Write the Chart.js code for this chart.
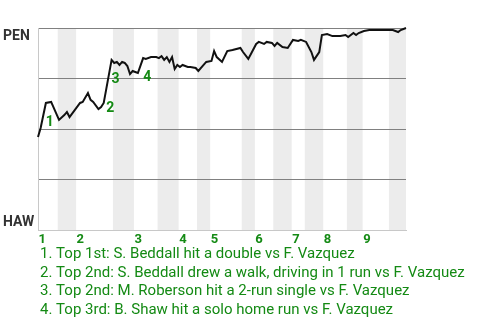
<!DOCTYPE html>
<html><head><meta charset="utf-8">
<script src="https://cdn.jsdelivr.net/npm/chart.js@4"></script>
<style>html,body{margin:0;padding:0;background:#fff}#wrap{position:relative;width:480px;height:320px}</style>
</head><body><div id="wrap"><canvas id="c"></canvas></div>
<script>
const playIdx = [0,1,3,5,8,10,11,12,16,17,19,20,21,23,24,25,26,28,29,30,31,32,33,34,35,36,37,38,40,41,43,45,46,47,48,49,50,51,52,53,54,55,57,58,60,61,63,64,66,67,68,70,72,74,77,78,80,81,83,84,86,87,89,90,91,93,95,97,99,100,102,104,105,107,108,110,112,113,115,117,118,120,121,122,124,126,135,137,138,140];
const penWinPct = [46.0,50.5,62.9,63.4,54.5,56.9,58.4,55.9,62.9,63.4,67.8,64.4,63.4,59.9,60.9,62.9,70.0,84.2,82.7,83.2,81.7,83.2,82.7,81.2,77.2,78.7,78.2,77.7,85.1,84.7,85.6,85.6,85.1,86.1,84.2,85.6,83.2,85.6,79.7,81.7,80.7,81.7,80.7,80.7,80.2,78.7,81.7,83.2,83.7,88.6,85.6,83.2,88.6,89.1,90.1,88.1,84.7,87.1,92.1,93.1,92.1,93.1,92.6,91.1,92.6,90.6,90.1,94.1,93.6,94.1,93.1,88.1,84.2,88.1,96.5,97.0,96.0,96.0,96.0,96.5,95.5,97.5,96.5,97.5,98.5,99.0,99.0,98.0,99.0,100];
const halfInningStarts = [0,8,15,29,37,46,54,61,66,78,83,90,97,102,109,118,124,134];
const totalPlays = 140;
const inningLabels = ['1','2','3','4','5','6','7','8','9'];
const eventPlays = [3,26,28,40];
const eventMarks = ['1','2','3','4'];
const eventTexts = [
  '1. Top 1st: S. Beddall hit a double vs F. Vazquez',
  '2. Top 2nd: S. Beddall drew a walk, driving in 1 run vs F. Vazquez',
  '3. Top 2nd: M. Roberson hit a 2-run single vs F. Vazquez',
  '4. Top 3rd: B. Shaw hit a solo home run vs F. Vazquez'
];
const teamTop = 'PEN';
const teamBottom = 'HAW';

const GREEN = '#148a14';

const bandsPlugin = {
  id: 'bands',
  beforeDraw(chart) {
    const {ctx, chartArea: a, scales: {x}} = chart;
    ctx.save();
    ctx.fillStyle = '#ececec';
    for (let i = 1; i < halfInningStarts.length; i += 2) {
      const s = Math.max(halfInningStarts[i] - 0.5, x.min);
      const e = (i + 1 < halfInningStarts.length) ? halfInningStarts[i + 1] - 0.5 : x.max;
      const x0 = x.getPixelForValue(s), x1 = x.getPixelForValue(e);
      ctx.fillRect(x0, a.top, x1 - x0, a.bottom - a.top);
    }
    ctx.restore();
  }
};

const textPlugin = {
  id: 'texts',
  afterDraw(chart) {
    const {ctx, chartArea: a, scales: {x, y}} = chart;
    ctx.save();
    ctx.textBaseline = 'alphabetic';
    ctx.textAlign = 'left';
    ctx.fillStyle = '#333';
    ctx.font = 'bold 14px Roboto';
    ctx.fillText(teamTop, 3, a.top + 11.5);
    ctx.fillText(teamBottom, 3, a.bottom - 4);

    ctx.fillStyle = GREEN;
    ctx.font = 'bold 13px Roboto';
    for (let k = 0; k < inningLabels.length; k++) {
      const st = halfInningStarts[k * 2];
      const px = x.getPixelForValue(Math.max(st - 0.5, x.min));
      ctx.fillText(inningLabels[k], px + 0.5, a.bottom + 12.5);
    }

    ctx.font = '15px Roboto';
    eventTexts.forEach((t, i) => ctx.fillText(t, 40, a.bottom + 28 + i * 18.5));

    ctx.font = 'bold 14px Roboto';
    ctx.textAlign = 'center';
    eventPlays.forEach((p, i) => {
      const idx = playIdx.indexOf(p);
      const px = x.getPixelForValue(p), py = y.getPixelForValue(penWinPct[idx]);
      ctx.fillText(eventMarks[i], px + 4, py + 23);
    });
    ctx.restore();
  }
};

new Chart(document.getElementById('c'), {
  type: 'line',
  data: {
    datasets: [{
      data: playIdx.map((p, i) => ({x: p, y: penWinPct[i]})),
      borderColor: '#111',
      borderWidth: 2,
      pointRadius: 0,
      tension: 0,
      fill: false,
      clip: false
    }]
  },
  options: {
    responsive: true,
    maintainAspectRatio: false,
    animation: false,
    events: [],
    layout: {padding: {left: 38, right: 74, top: 28, bottom: 90}},
    plugins: {legend: {display: false}, tooltip: {enabled: false}},
    scales: {
      x: {
        type: 'linear', min: 0, max: totalPlays,
        ticks: {display: false},
        grid: {display: false, drawTicks: false},
        border: {display: true, color: '#c8c8c8'},
        afterFit(s) { s.height = 0; }
      },
      y: {
        min: 0, max: 100,
        ticks: {display: false, stepSize: 25},
        grid: {color: c => c.tick.value === 0 ? '#c8c8c8' : '#808080', drawTicks: false},
        border: {display: true, color: '#c8c8c8'},
        afterFit(s) { s.width = 0; }
      }
    }
  },
  plugins: [bandsPlugin, textPlugin]
});
</script>
</body></html>
